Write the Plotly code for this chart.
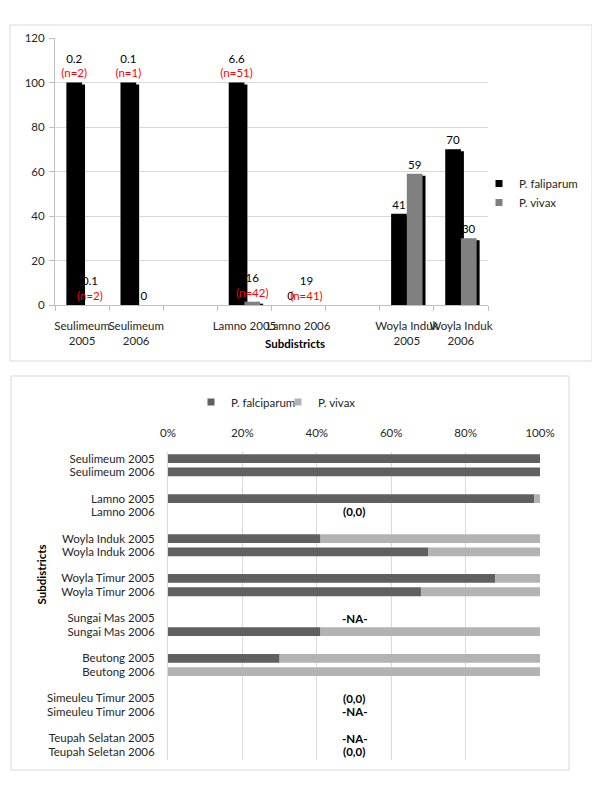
import plotly.graph_objects as go

# ---------------- data: top chart ----------------
top_categories = ["Seulimeum 2005", "Seulimeum 2006", " ", "Lamno 2005", "Lamno 2006", "  ",
                  "Woyla Induk 2005", "Woyla Induk 2006"]
top_ticktext = ["Seulimeum<br>2005", "Seulimeum<br>2006", "", "Lamno 2005", "Lamno 2006", "",
                "Woyla Induk<br>2005", "Woyla Induk<br>2006"]
falciparum_top = [100, 100, None, 100, 0, None, 41, 70]
vivax_top = [0, 0, None, 1.5, 0, None, 59, 30]
falciparum_label = ["0.2", "0.1", None, "6.6", "0", None, "41", "70"]
falciparum_n = ["(n=2)", "(n=1)", None, "(n=51)", "", None, "", ""]
vivax_label = ["0.1", "0", None, "16", "19", None, "59", "30"]
vivax_n = ["(n=2)", "", None, "(n=42)", "(n=41)", None, "", ""]

# ---------------- data: bottom chart ----------------
bottom_categories = ["Seulimeum 2005", "Seulimeum 2006", " ",
                     "Lamno 2005", "Lamno 2006", "  ",
                     "Woyla Induk 2005", "Woyla Induk 2006", "   ",
                     "Woyla Timur 2005", "Woyla Timur 2006", "    ",
                     "Sungai Mas 2005", "Sungai Mas 2006", "     ",
                     "Beutong 2005", "Beutong 2006", "      ",
                     "Simeuleu Timur 2005", "Simeuleu Timur 2006", "       ",
                     "Teupah Selatan 2005", "Teupah Seletan 2006"]
falciparum_pct = [100, 100, None, 98.5, None, None, 41, 70, None, 88, 68, None,
                  None, 41, None, 30, 0, None, None, None, None, None, None]
vivax_pct = [0, 0, None, 1.5, None, None, 59, 30, None, 12, 32, None,
             None, 59, None, 70, 100, None, None, None, None, None, None]
note_categories = ["Lamno 2006", "Sungai Mas 2005", "Simeuleu Timur 2005",
                   "Simeuleu Timur 2006", "Teupah Selatan 2005", "Teupah Seletan 2006"]
note_text = ["(0,0)", "-NA-", "(0,0)", "-NA-", "-NA-", "(0,0)"]

# the page body has an 8px margin, so the figure is sized to fit the window
OFF = 8
W, H = 600 - OFF, 788 - OFF
def px(x):
    return (x - OFF) / W
def py(y):
    return 1 - (y - OFF) / H

FONT = "Lato"
FS = 11.5
TXT = "#262626"
GRID = "#d9d9d9"
AXL = "#bfbfbf"
C_FAL_TOP, C_VIV_TOP = "#000000", "#808080"
C_FAL_BOT, C_VIV_BOT = "#606060", "#b3b3b3"

def combo(v, n):
    if v is None:
        return None
    if n:
        return f"{v}<br><span style='color:#ff0000'>{n}</span>"
    return v

bw = 0.29      # bar width (category units)
sh = 0.055     # 3-D shadow horizontal shift
sd = 0.9       # 3-D shadow vertical shift (value units)

fig = go.Figure()

# falciparum shadow + front
fig.add_trace(go.Bar(x=top_categories, y=falciparum_top, base=-sd, width=bw, offset=-bw + sh,
                     marker=dict(color="#000000", line=dict(width=0)), showlegend=False,
                     hoverinfo="skip", xaxis="x", yaxis="y"))
fig.add_trace(go.Bar(x=top_categories, y=falciparum_top, width=bw, offset=-bw, name="P. faliparum",
                     marker=dict(color=C_FAL_TOP, line=dict(width=0)), showlegend=False,
                     text=[combo(v, n) for v, n in zip(falciparum_label, falciparum_n)],
                     textposition="outside", textangle=0, constraintext="none", cliponaxis=False,
                     textfont=dict(family=FONT, size=FS, color="#000000"),
                     xaxis="x", yaxis="y"))
# vivax shadow + front
fig.add_trace(go.Bar(x=top_categories, y=vivax_top, base=-sd, width=bw, offset=sh,
                     marker=dict(color="#000000", line=dict(width=0)), showlegend=False,
                     hoverinfo="skip", xaxis="x", yaxis="y"))
fig.add_trace(go.Bar(x=top_categories, y=vivax_top, width=bw, offset=0, name="P. vivax",
                     marker=dict(color=C_VIV_TOP, line=dict(width=0)), showlegend=False,
                     text=[combo(v, n) for v, n in zip(vivax_label, vivax_n)],
                     textposition="outside", textangle=0, constraintext="none", cliponaxis=False,
                     textfont=dict(family=FONT, size=FS, color="#000000"),
                     xaxis="x", yaxis="y"))

# bottom: 100% stacked horizontal bars
fig.add_trace(go.Bar(y=bottom_categories, x=falciparum_pct, orientation="h", width=0.66,
                     name="P. falciparum", marker=dict(color=C_FAL_BOT, line=dict(width=0)),
                     showlegend=False, xaxis="x2", yaxis="y2"))
fig.add_trace(go.Bar(y=bottom_categories, x=vivax_pct, base=falciparum_pct, orientation="h", width=0.66,
                     name="P. vivax", marker=dict(color=C_VIV_BOT, line=dict(width=0)),
                     showlegend=False, xaxis="x2", yaxis="y2"))

# legend entries with small square keys (Excel style)
for name, col, lg, xa, ya in [("P. faliparum", C_FAL_TOP, "legend", "x", "y"),
                              ("P. vivax", C_VIV_TOP, "legend", "x", "y"),
                              ("P. falciparum", C_FAL_BOT, "legend2", "x2", "y2"),
                              ("P. vivax", C_VIV_BOT, "legend2", "x2", "y2")]:
    fig.add_trace(go.Scatter(x=[None], y=[None], mode="markers", name=name,
                             marker=dict(symbol="square", size=7, color=col),
                             legend=lg, xaxis=xa, yaxis=ya, hoverinfo="skip"))

annotations = [
    dict(text="<b>Subdistricts</b>", x=px(295), y=py(343), xref="paper", yref="paper",
         showarrow=False, font=dict(family=FONT, size=FS, color="#000000")),
    dict(text="<b>Subdistricts</b>", x=px(32), y=py(607), xref="paper", yref="paper",
         textangle=-90, showarrow=False, font=dict(family=FONT, size=FS, color="#000000")),
]
for c, t in zip(note_categories, note_text):
    annotations.append(dict(text=f"<b>{t}</b>", x=0.5, y=c, xref="x2 domain", yref="y2",
                            showarrow=False, font=dict(family=FONT, size=FS, color="#000000")))

fig.update_layout(
    width=W, height=H, margin=dict(l=0, r=0, t=0, b=0, autoexpand=False),
    paper_bgcolor="white", plot_bgcolor="white",
    barmode="overlay",
    font=dict(family=FONT, size=FS, color=TXT),
    xaxis=dict(domain=[px(55), px(488)], anchor="y", type="category", automargin=False,
               categoryorder="array", categoryarray=top_categories,
               tickmode="array", tickvals=top_categories, ticktext=top_ticktext,
               tickangle=0, tickson="boundaries", ticks="outside", ticklen=5, tickcolor=AXL,
               ticklabelstandoff=10,
               showline=True, linecolor=AXL, showgrid=False,
               tickfont=dict(family=FONT, size=FS, color=TXT)),
    yaxis=dict(domain=[py(305), py(38)], anchor="x", range=[0, 120], dtick=20, automargin=False,
               showgrid=True, gridcolor=GRID, zeroline=False, ticklabelstandoff=2,
               showline=True, linecolor=AXL, ticks="outside", ticklen=5, tickcolor=AXL,
               tickfont=dict(family=FONT, size=FS, color=TXT)),
    xaxis2=dict(domain=[px(168), px(540)], anchor="y2", side="top", range=[0, 100], dtick=20,
                automargin=False, tickangle=0,
                ticksuffix="%", showgrid=True, gridcolor=GRID, zeroline=False, showline=False,
                ticks="", ticklabelstandoff=12,
                tickfont=dict(family=FONT, size=FS, color=TXT)),
    yaxis2=dict(domain=[py(760), py(452)], anchor="x2", type="category", automargin=False,
                categoryorder="array", categoryarray=bottom_categories, autorange="reversed",
                tickmode="array", tickvals=bottom_categories,
                ticktext=[c.strip() for c in bottom_categories],
                showgrid=False, zeroline=False, showline=True, linecolor=GRID, ticks="",
                ticklabelstandoff=10,
                tickfont=dict(family=FONT, size=FS, color=TXT)),
    legend=dict(x=px(479), y=py(193), xanchor="left", yanchor="middle",
                font=dict(family=FONT, size=FS, color=TXT), bgcolor="rgba(0,0,0,0)",
                tracegroupgap=0),
    legend2=dict(orientation="h", x=px(191), y=py(402), xanchor="left", yanchor="middle",
                 entrywidth=42, entrywidthmode="pixels",
                 font=dict(family=FONT, size=FS, color=TXT), bgcolor="rgba(0,0,0,0)"),
    annotations=annotations,
    shapes=[
        dict(type="rect", xref="paper", yref="paper", x0=px(10), x1=px(592), y0=py(361), y1=py(25),
             line=dict(color=GRID, width=1), fillcolor="rgba(0,0,0,0)", layer="below"),
        dict(type="rect", xref="paper", yref="paper", x0=px(11), x1=px(569), y0=py(770), y1=py(376),
             line=dict(color=GRID, width=1), fillcolor="rgba(0,0,0,0)", layer="below"),
    ],
)

fig.write_html("out.html")
